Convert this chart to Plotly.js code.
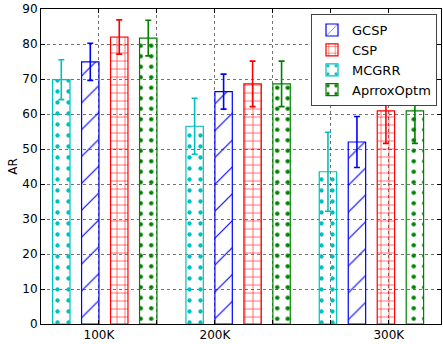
<!DOCTYPE html>
<html><head><meta charset="utf-8">
<script src="https://cdn.plot.ly/plotly-3.0.1.min.js"></script>
<style>html,body{margin:0;padding:0;background:#fff}#chart{width:443px;height:344px}</style>
</head><body><div id="chart"></div>
<script>
const groups = ['100K', '200K', '300K'];
const MCGRR = [69.8, 56.5, 43.5];
const MCGRR_err = [5.7, 8.0, 11.3];
const GCSP = [74.9, 66.4, 52.0];
const GCSP_err = [5.3, 5.0, 7.3];
const CSP = [82.0, 68.6, 60.9];
const CSP_err = [4.9, 6.5, 9.3];
const AprroxOptm = [81.7, 68.6, 60.9];
const AprroxOptm_err = [5.1, 6.5, 9.3];
const tickLabels = ['', '100K', '', '200K', '', '', '300K'];

// layout of bars (positions, not data)
const groupStart = 0.1, groupStep = 1.15, barW = 0.15, barStep = 0.25;
const series = [
  {name: 'MCGRR', y: MCGRR, e: MCGRR_err, color: '#00BFBF', shape: '.', size: 11, sol: 0.12, rank: 3, k: 0},
  {name: 'GCSP', y: GCSP, e: GCSP_err, color: '#0000FF', shape: '/', size: 19, sol: 0.06, rank: 1, k: 1},
  {name: 'CSP', y: CSP, e: CSP_err, color: '#FF0000', shape: '+', size: 8, sol: 0.13, rank: 2, k: 2},
  {name: 'AprroxOptm', y: AprroxOptm, e: AprroxOptm_err, color: '#008000', shape: '.', size: 10.5, sol: 0.14, rank: 4, k: 3}
];

const traces = series.map(s => ({
  type: 'bar',
  name: s.name,
  x: groups.map((g, i) => groupStart + i * groupStep + s.k * barStep + barW / 2),
  y: s.y,
  width: barW,
  legendrank: s.rank,
  marker: {
    color: 'rgba(0,0,0,0)',
    line: {color: s.color, width: 1.2},
    pattern: {shape: s.shape, fgcolor: s.color, bgcolor: 'rgba(0,0,0,0)', size: s.size, solidity: s.sol, fillmode: 'replace'}
  },
  error_y: {type: 'data', array: s.e, visible: true, color: s.color, thickness: 1.6, width: 3},
  hoverinfo: 'skip'
}));

const tickvals = tickLabels.map((t, i) => i * 0.5);

const layout = {
  width: 443, height: 344,
  margin: {l: 41, r: 2, t: 9, b: 20},
  paper_bgcolor: '#fff', plot_bgcolor: '#fff',
  font: {family: 'DejaVu Sans', size: 12, color: '#000'},
  barmode: 'overlay',
  showlegend: true,
  legend: {
    x: 0.99, y: 0.984, xanchor: 'right', yanchor: 'top',
    bgcolor: '#fff', bordercolor: '#444', borderwidth: 1,
    font: {family: 'DejaVu Sans', size: 13},
    traceorder: 'normal', tracegroupgap: 0, itemwidth: 30
  },
  xaxis: {
    range: [0, 3.45], tickmode: 'array', tickvals: tickvals, ticktext: tickLabels,
    ticks: 'inside', ticklen: 4, tickcolor: '#000', mirror: 'ticks',
    showline: true, linecolor: '#000', linewidth: 1,
    showgrid: true, gridcolor: 'rgba(0,0,0,0.55)', griddash: 'dot', gridwidth: 1,
    zeroline: false, tickfont: {size: 12}
  },
  yaxis: {
    range: [0, 90], dtick: 10, tick0: 0,
    ticks: 'inside', ticklen: 4, tickcolor: '#000', mirror: 'ticks',
    showline: true, linecolor: '#000', linewidth: 1,
    showgrid: true, gridcolor: 'rgba(0,0,0,0.55)', griddash: 'dot', gridwidth: 1,
    zeroline: false, tickfont: {size: 12},
    title: {text: 'AR', font: {size: 12}, standoff: 2}
  }
};

Plotly.newPlot('chart', traces, layout, {staticPlot: true, displayModeBar: false});
</script>
</body></html>
